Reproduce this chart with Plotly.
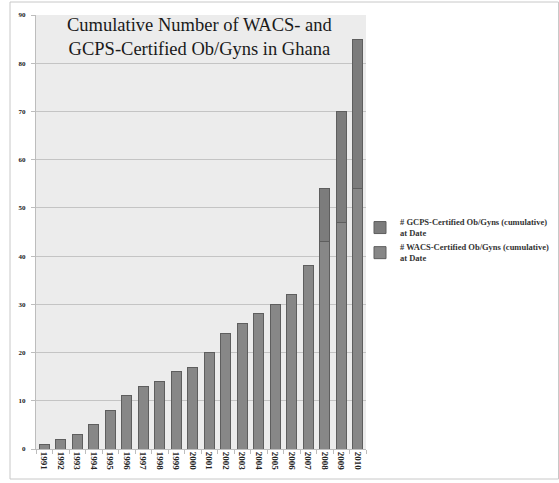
import plotly.graph_objects as go

years = [str(y) for y in range(1991, 2011)]
wacs = [1, 2, 3, 5, 8, 11, 13, 14, 16, 17, 20, 24, 26, 28, 30, 32, 38, 43, 47, 54]
gcps = [0, 0, 0, 0, 0, 0, 0, 0, 0, 0, 0, 0, 0, 0, 0, 0, 0, 11, 23, 31]
y_ticks = list(range(0, 100, 10))

W, H = 559, 483
L, R, T, B = 36, 193, 15, 34
pw, ph = W - L - R, H - T - B

def px(x):
    return (x - L) / pw

def py(y):
    return (H - B - y) / ph

fig = go.Figure()
fig.add_trace(go.Bar(
    x=years, y=wacs,
    name="# WACS-Certified Ob/Gyns (cumulative)<br>at Date",
    marker=dict(color="#878787", line=dict(color="#5e5e5e", width=1)),
))
fig.add_trace(go.Bar(
    x=years, y=gcps,
    name="# GCPS-Certified Ob/Gyns (cumulative)<br>at Date",
    marker=dict(color="#7c7c7c", line=dict(color="#5e5e5e", width=1)),
))

fig.update_layout(
    width=W, height=H,
    margin=dict(l=L, r=R, t=T, b=B, pad=0, autoexpand=False),
    barmode="stack",
    bargap=0.4,
    paper_bgcolor="white",
    plot_bgcolor="#ececec",
    font=dict(family="Liberation Serif", color="#222222"),
    legend=dict(
        x=px(360), y=py(210), xanchor="left", yanchor="top",
        traceorder="reversed",
        font=dict(family="Liberation Serif", size=8.5, color="#333333", weight="bold"),
        itemwidth=30, tracegroupgap=2,
        bgcolor="rgba(0,0,0,0)",
    ),
    xaxis=dict(
        type="category",
        tickangle=90,
        ticks="outside", ticklen=4, tickcolor="#bdbdbd",
        tickson="boundaries",
        tickfont=dict(family="Liberation Serif", size=9, color="#222222", weight="bold"),
        showline=True, linecolor="#bdbdbd", linewidth=1,
        showgrid=False,
    ),
    yaxis=dict(
        range=[0, 90],
        tickvals=y_ticks,
        ticks="outside", ticklen=4, tickcolor="#bdbdbd",
        ticklabelstandoff=4,
        tickfont=dict(family="Liberation Serif", size=7, color="#222222", weight="bold"),
        showline=True, linecolor="#bdbdbd", linewidth=1,
        gridcolor="#c4c4c4", gridwidth=1,
        zeroline=False,
    ),
    annotations=[dict(
        text="Cumulative Number of WACS- and<br>GCPS-Certified Ob/Gyns in Ghana",
        xref="paper", yref="paper",
        x=px(199.5), y=py(37.5), xanchor="center", yanchor="middle",
        showarrow=False,
        font=dict(family="Liberation Serif", size=18.5, color="#1a1a1a"),
    )],
    shapes=[dict(
        type="rect", xref="paper", yref="paper",
        x0=px(10), x1=px(558.5), y0=py(479), y1=py(2),
        line=dict(color="#c8c8c8", width=1),
        fillcolor="rgba(0,0,0,0)", layer="below",
    )],
)

fig.write_html("out.html")
